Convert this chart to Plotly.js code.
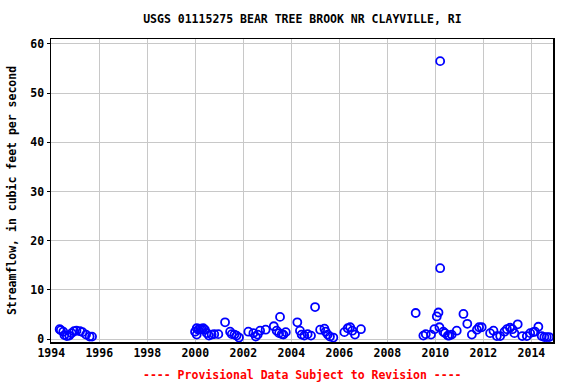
<!DOCTYPE html>
<html>
<head>
<meta charset="utf-8">
<script src="https://cdn.plot.ly/plotly-3.0.1.min.js"></script>
<style>html,body{margin:0;padding:0;background:#fff;}#chart{width:576px;height:384px;}</style>
</head>
<body>
<div id="chart"></div>
<script>
// Decimal years of each measurement
const years = [
  1994.35, 1994.40, 1994.50, 1994.55, 1994.65, 1994.75, 1994.85, 1994.95, 1995.05, 1995.20, 1995.30, 1995.45, 1995.60, 1995.70,
  1999.99, 2000.06, 2000.13, 2000.20, 2000.27, 2000.33, 2000.40, 2000.06, 2000.48, 2000.57, 2000.68, 2000.79, 2000.96,
  2001.24, 2001.45, 2001.52, 2001.63, 2001.72, 2001.82, 2002.21, 2002.42, 2002.52, 2002.60, 2002.70, 2002.93, 2003.27,
  2003.39, 2003.49, 2003.53, 2003.60, 2003.67, 2003.77, 2004.25, 2004.36, 2004.43, 2004.54, 2004.68, 2004.82, 2004.99,
  2005.20, 2005.38, 2005.43, 2005.52, 2005.61, 2005.75, 2006.21, 2006.35, 2006.45, 2006.54, 2006.65, 2006.90,
  2009.18, 2009.50, 2009.60, 2009.82, 2009.96, 2010.06, 2010.13, 2010.17, 2010.20, 2010.20, 2010.33, 2010.40, 2010.52,
  2010.58, 2010.68, 2010.89, 2011.17, 2011.33, 2011.52, 2011.73, 2011.82, 2011.93,
  2012.28, 2012.42, 2012.56, 2012.70, 2012.88, 2012.98, 2013.11, 2013.21, 2013.29, 2013.43, 2013.62, 2013.81, 2013.95,
  2014.08, 2014.15, 2014.29, 2014.43, 2014.54, 2014.64, 2014.74
];
// Streamflow, cubic feet per second
const flows = [
  2.0, 1.8, 1.5, 0.8, 0.6, 0.7, 1.2, 1.6, 1.7, 1.6, 1.4, 0.9, 0.5, 0.5,
  1.5, 2.2, 1.9, 2.1, 2.0, 2.2, 1.9, 0.9, 1.2, 0.7, 0.9, 1.0, 1.0,
  3.4, 1.5, 1.0, 0.9, 0.7, 0.3, 1.5, 1.2, 0.5, 0.9, 1.7, 1.9, 2.6,
  1.7, 1.2, 4.5, 1.0, 0.9, 1.4, 3.4, 1.7, 0.9, 0.7, 1.0, 0.7, 6.5,
  1.9, 2.1, 1.5, 0.9, 0.5, 0.3, 1.4, 2.2, 2.4, 1.7, 0.9, 2.0,
  5.3, 0.7, 1.0, 0.9, 2.0, 4.6, 5.4, 2.4, 56.5, 14.4, 1.5, 1.2, 0.7,
  0.7, 0.9, 1.7, 5.1, 3.1, 0.9, 1.9, 2.4, 2.4,
  1.2, 1.7, 0.6, 0.6, 1.5, 2.0, 2.3, 2.0, 1.2, 3.0, 0.6, 0.6, 1.2,
  1.4, 1.5, 2.5, 0.6, 0.4, 0.4, 0.4
];
const xTicks = [1994, 1996, 1998, 2000, 2002, 2004, 2006, 2008, 2010, 2012, 2014];
const yTicks = [0, 10, 20, 30, 40, 50, 60];

const F = "'DejaVu Sans Mono', 'Liberation Mono', monospace";

const trace = {
  x: years,
  y: flows,
  type: 'scatter',
  mode: 'markers',
  marker: {symbol: 'circle-open', size: 8, color: '#0000ff', line: {width: 1.8, color: '#0000ff'}},
  hoverinfo: 'x+y'
};

const layout = {
  width: 576, height: 384,
  margin: {l: 51, r: 23, t: 39, b: 42, pad: 0},
  paper_bgcolor: '#ffffff', plot_bgcolor: '#ffffff',
  showlegend: false,
  font: {family: F, size: 11.5, color: '#000000', weight: 'bold'},
  title: {
    text: 'USGS 01115275 BEAR TREE BROOK NR CLAYVILLE, RI',
    font: {family: F, size: 11.5, color: '#000000', weight: 'bold'},
    x: 0.525, xanchor: 'center', y: 0.95, yanchor: 'middle'
  },
  xaxis: {
    range: [1993.99, 2014.9],
    tickmode: 'array', tickvals: xTicks, ticktext: xTicks.map(String),
    showgrid: true, gridcolor: '#c8c8c8', gridwidth: 1,
    zeroline: false,
    showline: true, linecolor: '#000000', linewidth: 1.5, mirror: true,
    ticks: '', ticklen: 0,
    tickfont: {family: F, size: 11.5, color: '#000000', weight: 'bold'}
  },
  yaxis: {
    range: [-0.6, 61],
    tickmode: 'array', tickvals: yTicks, ticktext: yTicks.map(String),
    showgrid: true, gridcolor: '#c8c8c8', gridwidth: 1,
    zeroline: false,
    showline: true, linecolor: '#000000', linewidth: 1.5, mirror: true,
    ticks: 'outside', ticklen: 3, tickcolor: '#000000',
    tickfont: {family: F, size: 11.5, color: '#000000', weight: 'bold'},
    title: {text: 'Streamflow, in cubic feet per second', standoff: 11,
            font: {family: F, size: 11.5, color: '#000000', weight: 'bold'}}
  },
  annotations: [{
    text: '---- Provisional Data Subject to Revision ----',
    xref: 'paper', yref: 'paper', x: 0.5, y: -0.11, xanchor: 'center', yanchor: 'middle',
    showarrow: false,
    font: {family: F, size: 11.5, color: '#ff0000', weight: 'bold'}
  }]
};

Plotly.newPlot('chart', [trace], layout, {displayModeBar: false, staticPlot: true});
</script>
</body>
</html>
